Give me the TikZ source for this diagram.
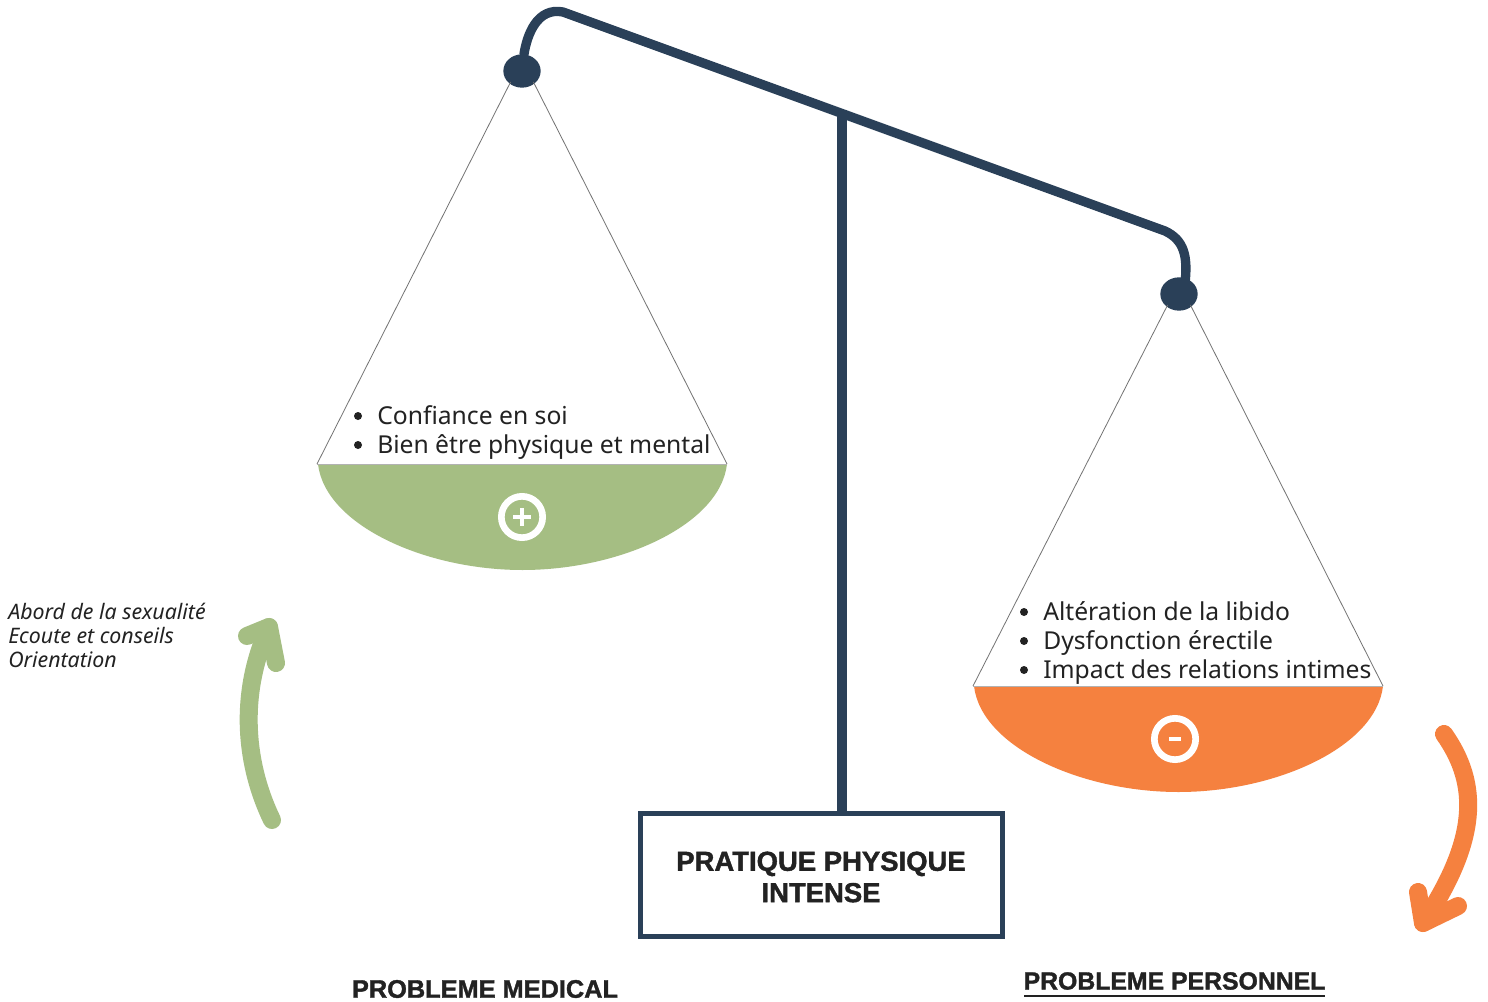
\documentclass[tikz,border=0pt]{standalone}
\usepackage{fontspec}
\setmainfont{Noto Sans}
\newfontfamily\heavyfont{Liberation Sans}[BoldFeatures={FakeBold=1.4}]
\usetikzlibrary{shapes.geometric}
\definecolor{navy}{HTML}{2A4058}
\definecolor{leaf}{HTML}{A5BE83}
\definecolor{tang}{HTML}{F5813F}
\definecolor{ink}{HTML}{222222}
\tikzset{
 beam/.style={draw=navy,line width=7pt,line cap=round,line join=round},
 pivot/.style={ellipse,fill=navy,minimum width=28pt,minimum height=25pt,inner sep=0pt},
 cord/.style={draw=black!55,line width=0.6pt},
 listtext/.style={anchor=west,inner sep=0pt,align=left,text=ink,font=\fontsize{18.5pt}{21.8pt}\selectfont},
 bulletmark/.style={circle,fill=ink,minimum size=6pt,inner sep=0pt},
 heavy/.style={text=ink,inner sep=0pt,align=center,font=\heavyfont\bfseries\fontsize{19pt}{23.5pt}\selectfont},
 note/.style={anchor=north west,inner sep=0pt,align=left,text=ink,font=\itshape\fontsize{16pt}{18pt}\selectfont},
 ring/.style={circle,draw=white,line width=5pt,minimum size=31pt,inner sep=0pt},
 sign/.style={draw=white,line width=3.6pt},
 sweep/.style={line width=13.5pt,line cap=round,line join=round},
 framebox/.style={draw=navy,line width=4.2pt,fill=white,minimum width=271.5pt,minimum height=92pt,inner sep=0pt}
}
\begin{document}
\begin{tikzpicture}[x=0.75pt,y=-0.75pt]
\useasboundingbox (0,0) rectangle (1488,1002);
\fill[white] (0,0) rectangle (1488,1002);
% pans
\fill[leaf] (318,464) .. controls (325,525) and (425,570) .. (522.5,570) .. controls (620,570) and (720,525) .. (727,464) -- cycle;
\fill[tang] (974,686) .. controls (981,747) and (1081,792) .. (1178.5,792) .. controls (1276,792) and (1376,747) .. (1383,686) -- cycle;
% named anchors
\coordinate (la) at (317,464);
\coordinate (lb) at (727,464);
\coordinate (ra) at (973,686);
\coordinate (rb) at (1383,686);
\coordinate (beamtop) at (842,110);
\coordinate (beamfoot) at (842,812);
\node[pivot] (lp) at (522,71) {};
\node[pivot] (rp) at (1179,294) {};
\node[framebox] (base) at (821.5,875) {};
\node[heavy,font=\heavyfont\bfseries\fontsize{20.6pt}{23.5pt}\selectfont] (basetext) at (821,877) {PRATIQUE PHYSIQUE\\INTENSE};
% cords
\draw[cord] (lp.south west) ++(2,-1) -- (la);
\draw[cord] (lp.south east) ++(-2,-1) -- (lb);
\draw[cord] (rp.south west) ++(2,-1) -- (ra);
\draw[cord] (rp.south east) ++(-2,-1) -- (rb);
\draw[draw=black!30,line width=0.5pt] (la) -- (lb) (ra) -- (rb);
% beam
\draw[beam] (lp.north) ++(2,0) .. controls (527,35) and (537,7) .. (563,12) -- (1165,231) .. controls (1184,240) and (1188,256) .. (1185,283);
\draw[beam,line cap=butt] (beamtop) -- (beamfoot);
% texts
\node[bulletmark] (lb1) at (358,416) {};
\node[bulletmark] (lb2) at (358,445) {};
\node[listtext] (ltxt) at (377,432.5) {Confiance en soi\\Bien être physique et mental};
\node[bulletmark] (rb1) at (1024,612) {};
\node[bulletmark] (rb2) at (1024,641) {};
\node[bulletmark] (rb3) at (1024,670) {};
\node[listtext] (rtxt) at (1043,643) {Altération de la libido\\Dysfonction érectile\\Impact des relations intimes};
\node[note] (notes) at (8,603) {Abord de la sexualité\\Ecoute et conseils\\Orientation};
\node[heavy] (pm) at (485,989) {PROBLEME MEDICAL};
\node[heavy,font=\heavyfont\bfseries\fontsize{18.6pt}{23.5pt}\selectfont] (pp) at (1174.5,981) {PROBLEME PERSONNEL};
\draw[ink,line width=1.3pt] (pp.center) ++(-150.5,15) -- ++(301,0);
% icons
\node[ring] (plus) at (522,517) {};
\draw[sign] (plus.center) ++(-9,0) -- ++(18,0);
\draw[sign] (plus.center) ++(0,-9) -- ++(0,18);
\node[ring] (minus) at (1175,739) {};
\draw[sign] (minus.center) ++(-6,0) -- ++(12,0);
% arrows
\coordinate (gs) at (272,820);
\coordinate (gt) at (269,627);
\coordinate (os) at (1444,734);
\coordinate (ot) at (1423,923);
\draw[sweep,draw=leaf] (gs) .. controls (243,760) and (240,690) .. (gt);
\draw[sweep,draw=leaf] (247,636) -- (gt) -- (276,663);
\draw[sweep,draw=tang] (os) .. controls (1480,785) and (1478,840) .. (ot);
\draw[sweep,draw=tang] (1418,892) -- (ot) -- (1458,906);
\end{tikzpicture}
\end{document}
